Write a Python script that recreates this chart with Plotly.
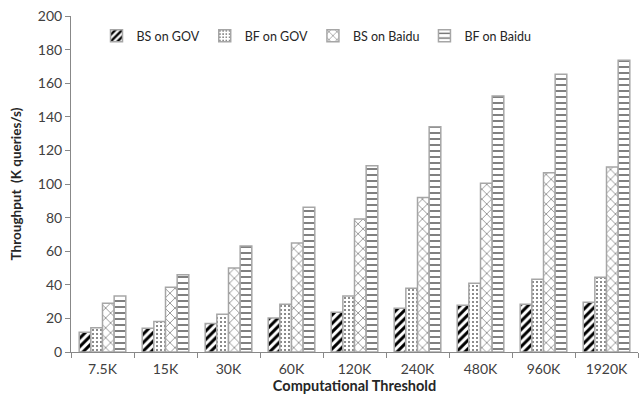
import plotly.graph_objects as go

categories = ["7.5K", "15K", "30K", "60K", "120K", "240K", "480K", "960K", "1920K"]
bs_gov = [11.7, 14.1, 16.9, 20.2, 23.6, 26.0, 27.8, 28.4, 29.6]
bf_gov = [14.5, 18.1, 22.4, 28.4, 33.3, 37.9, 40.9, 43.3, 44.5]
bs_baidu = [29.0, 38.5, 50.0, 64.9, 79.2, 91.9, 100.4, 106.7, 110.1]
bf_baidu = [33.3, 46.0, 63.1, 86.1, 110.9, 134.1, 152.4, 165.3, 173.6]

series = [
    ("BS on GOV", bs_gov, dict(shape="/", fgcolor="black", fgopacity=1, size=6, solidity=0.5)),
    ("BF on GOV", bf_gov, dict(shape=".", fgcolor="#666666", fgopacity=1, size=4, solidity=0.2)),
    ("BS on Baidu", bs_baidu, dict(shape="x", fgcolor="#777777", fgopacity=1, size=7, solidity=0.2)),
    ("BF on Baidu", bf_baidu, dict(shape="-", fgcolor="#555555", fgopacity=1, size=6, solidity=0.25)),
]

fig = go.Figure()
for name, vals, pat in series:
    fig.add_trace(go.Bar(
        x=categories, y=vals, name=name,
        marker=dict(color="white", line=dict(color="#a6a6a6", width=1.5), pattern=pat),
    ))

font = "Lato, 'Open Sans', sans-serif"
fig.update_layout(
    width=639, height=405,
    margin=dict(l=71, r=1, t=16, b=53, autoexpand=False),
    plot_bgcolor="white", paper_bgcolor="white",
    barmode="group", bargap=0.26, bargroupgap=0,
    font=dict(family=font, size=14, color="#404040"),
    legend=dict(orientation="h", x=0.045, y=0.985, xanchor="left", yanchor="top",
                font=dict(size=12.5, color="#262626"), itemwidth=30,
                bgcolor="rgba(0,0,0,0)", tracegroupgap=0),
    xaxis=dict(
        title=dict(text="<b>Computational Threshold</b>", font=dict(size=14.5, color="#262626"), standoff=5),
        showline=True, linecolor="#888888", linewidth=1,
        ticks="outside", tickson="boundaries", ticklen=5, tickcolor="#888888",
        tickfont=dict(size=14, color="#404040"), ticklabelstandoff=4,
        showgrid=False, automargin=False,
    ),
    yaxis=dict(
        title=dict(text="<b>Throughput  (K queries/s)</b>", font=dict(size=13.5, color="#262626"), standoff=13),
        range=[0, 200], dtick=20,
        showline=True, linecolor="#888888", linewidth=1,
        ticks="outside", ticklen=5, tickcolor="#888888",
        tickfont=dict(size=14, color="#404040"),
        showgrid=False, zeroline=False, automargin=False,
    ),
)

fig.write_html("out.html", config={"displayModeBar": False},
               post_script="document.body.style.margin='0';")
